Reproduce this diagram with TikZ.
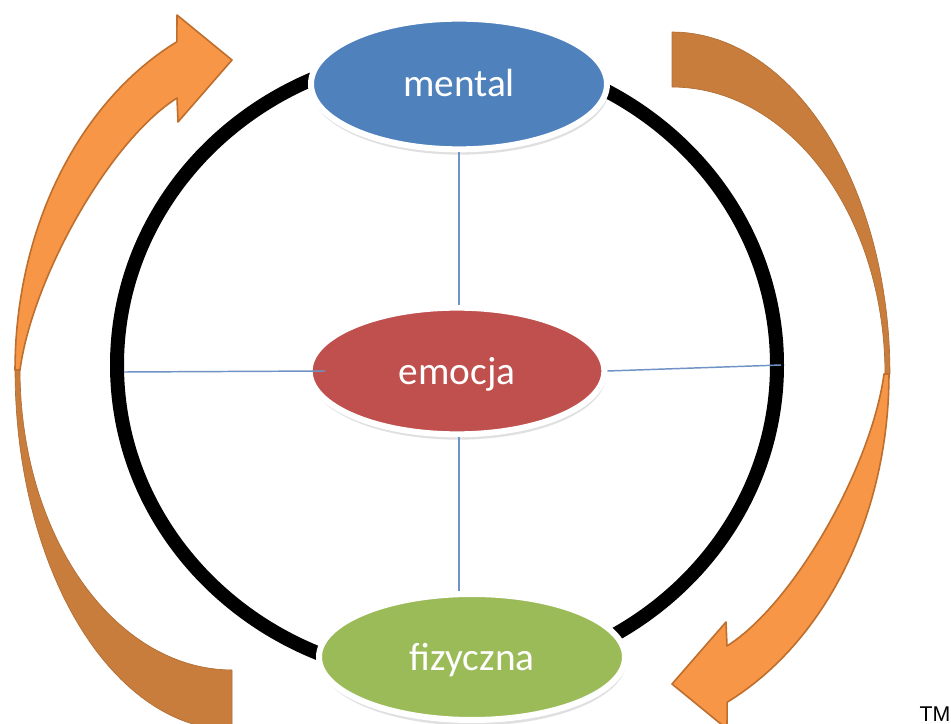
\documentclass[tikz,border=0pt]{standalone}
\usepackage{fontspec}
\setmainfont{Carlito}
\newfontfamily\tmfont{Liberation Sans}
\usetikzlibrary{shapes.geometric}
\definecolor{mblue}{HTML}{4F81BD}
\definecolor{ered}{HTML}{C0504D}
\definecolor{fgreen}{HTML}{9BBB59}
\definecolor{orL}{HTML}{F79646}
\definecolor{orB}{HTML}{BE6E2D}
\definecolor{orD}{HTML}{C87D3C}
\definecolor{lineblue}{HTML}{6F93C6}
\begin{document}
\begin{tikzpicture}[x=0.75pt,y=-0.75pt,
  bubble/.style={ellipse, draw=white, line width=4.5pt, inner sep=0pt, text=white,
     font=\fontsize{29.5}{32}\selectfont, text height=21pt, text depth=1.5pt},
  frontarrow/.style={fill=orL, draw=orB, line width=1.2pt, line join=round},
  backarrow/.style={fill=orD, draw=orD!88!black, line width=0.5pt, line join=round},
  spoke/.style={draw=lineblue, line width=1.1pt},
  ringline/.style={draw=black, line width=10.5pt},
  bshadow/.style={fill=black, opacity=0.12}]
\useasboundingbox (0,0) rectangle (951,724);
\fill[white] (0,0) rectangle (951,724);
\clip (0,0) rectangle (951,724);
% left curved arrow: back (lower) part
\path[backarrow] plot[domain=0:90, samples=45, variable=\t] ({232+217*cos(180-\t)},{370+360*sin(180-\t)})
  -- plot[domain=0:90, samples=45, variable=\t] ({232+212*cos(90+\t)},{370+300*sin(90+\t)}) -- cycle;
% left curved arrow: front (upper) part with head
\path[frontarrow] plot[domain=180:244.4, samples=40, variable=\t] ({300+285*cos(\t)},{370+364*sin(\t)})
  -- (177,15) -- (232,60) -- (178,122) -- (177,98) .. controls (108,142) and (32,280) .. (20,370) -- cycle;
% right curved arrow: back (upper) part
\path[backarrow] plot[domain=0:90, samples=45, variable=\t] ({672+218*cos(-\t)},{374+342*sin(-\t)})
  -- plot[domain=0:90, samples=45, variable=\t] ({672+213*cos(\t-90)},{374+287*sin(\t-90)}) -- cycle;
% right curved arrow: front (lower) part with head
\begin{scope}[rotate around={180:(452,372)}]
\path[frontarrow] plot[domain=180:244.4, samples=40, variable=\t] ({300+285*cos(\t)},{370+364*sin(\t)})
  -- (177,15) -- (232,60) -- (178,122) -- (177,98) .. controls (108,142) and (32,280) .. (20,370) -- cycle;
\end{scope}
% ring
\draw[ringline] (447,365) ellipse [x radius=247.5pt, y radius=234.75pt];
% shadows
\fill[bshadow] (460,88) ellipse [x radius=112pt, y radius=50pt];
\fill[bshadow] (458,375) ellipse [x radius=111pt, y radius=48.5pt];
\fill[bshadow] (473,661) ellipse [x radius=115pt, y radius=48.5pt];
% bubbles
\node[bubble, fill=mblue, minimum width=222pt, minimum height=98pt] (mental) at (459,84) {mental};
\node[bubble, fill=ered, minimum width=221pt, minimum height=95pt] (emocja) at (457,371) {emocja};
\node[bubble, fill=fgreen, minimum width=229.5pt, minimum height=94.5pt] (fizyczna) at (472,657) {fizyczna};
% spokes
\coordinate (ringL) at (124,372);
\coordinate (ringR) at (781,365);
\draw[spoke] (mental.south) -- (mental.south |- emocja.north);
\draw[spoke] (mental.south |- emocja.south) -- (mental.south |- fizyczna.north);
\draw[spoke] (ringL) -- ([xshift=14pt]emocja.west);
\draw[spoke] (emocja.east) -- (ringR);
% trademark
\node[font=\tmfont\fontsize{16}{18}\selectfont, anchor=base, inner sep=0pt] (tm) at (935,721) {TM};
\end{tikzpicture}
\end{document}
